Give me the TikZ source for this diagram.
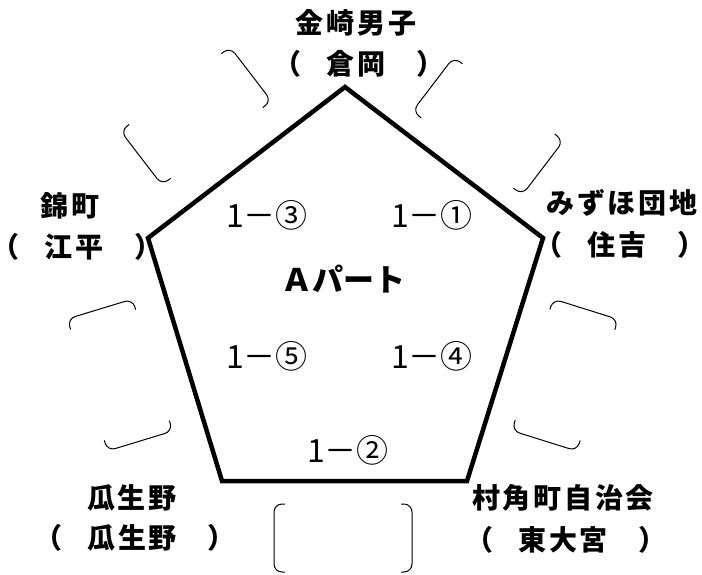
\documentclass[tikz,border=0pt]{standalone}
\usepackage{fontspec}
\newfontfamily\jpfont{Noto Sans CJK JP}
\usetikzlibrary{calc}

\tikzset{
	place/.style={font=\jpfont\bfseries\fontsize{28}{32}\selectfont\addfontfeature{LetterSpace=10}},
	match/.style={font=\jpfont\fontsize{32}{34}\selectfont},
	bracket/.style={line width=1pt, rounded corners=8pt},
}
\newcommand{\paren}[1]{（\hspace{0.9em}#1\hspace{1.1em}）}

\begin{document}
\begin{tikzpicture}[x=1pt, y=-1pt]
	
	\useasboundingbox (0,0) rectangle (702,574);
	
	%//pentagon corners
	\coordinate (top) at (345,87);
	\coordinate (right) at (543,238);
	\coordinate (botright) at (467,481);
	\coordinate (botleft) at (222,481);
	\coordinate (left) at (148,238);
	
	\draw[line width=4.5pt, line join=miter] (top) -- (right) -- (botright) -- (botleft) -- (left) -- cycle;
	
	%//empty bracket pairs along each side
	\foreach \cx/\cy/\ang in {343/538/0, 196/116/37.5, 488/126/-37.3, 120/375/-73.1, 565/375/72.6}
	{
		\begin{scope}[shift={(\cx,\cy)}, rotate=\ang]
			\draw[bracket] (-58,-34) -- (-69,-34) -- (-69,34) -- (-58,34);
			\draw[bracket] (58,-34) -- (69,-34) -- (69,34) -- (58,34);
		\end{scope}
	}
	
	%//team names at the corners
	\node[place] (kanazaki) at (356,23) {金崎男子};
	\node[place] (kuraoka) at (359,64) {\paren{倉岡}};
	\node[place] (nishiki) at (70,206) {錦町};
	\node[place] (ehira) at (77,247) {\paren{江平}};
	\node[place] (mizuho) at (622,203) {みずほ団地};
	\node[place] (sumiyoshi) at (620,245) {\paren{住吉}};
	\node[place] (uryuno) at (132,498) {瓜生野};
	\node[place] (uryunoarea) at (135,538) {\paren{瓜生野}};
	\node[place] (murasumi) at (563,498) {村角町自治会};
	\node[place] (higashi) at (566,540) {\paren{東大宮}};
	
	%//matches inside
	\node[place, font=\jpfont\bfseries\fontsize{31}{34}\selectfont] (part) at (343,279) {Ａパート};
	\foreach \name/\x/\y/\val in {mone/432/215/①, mtwo/348/450/②, mthree/267/215/③, mfour/432/356/④, mfive/267/356/⑤}
	\node[match] (\name) at (\x,\y) {1－\val};
	
\end{tikzpicture}
\end{document}
